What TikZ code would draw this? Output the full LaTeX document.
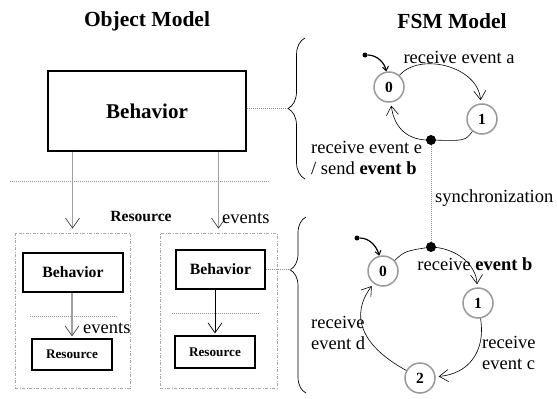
\documentclass[tikz,border=0pt]{standalone}
\usepackage{fontspec}
\setmainfont{Liberation Serif}
\usetikzlibrary{arrows.meta,decorations.pathreplacing,calc}

\begin{document}
\begin{tikzpicture}[x=1pt,y=-1pt,
  lab/.style={font=\fontsize{18.5}{21}\selectfont, inner sep=0pt},
  heading/.style={font=\bfseries\fontsize{21.5}{24}\selectfont, inner sep=0pt},
  box/.style={draw, line width=1.2pt, inner sep=0pt},
  group/.style={draw=gray!70, line width=0.7pt, inner sep=0pt,
    dash pattern=on 3pt off 1.5pt on 1pt off 1.5pt},
  sep/.style={draw=gray!90, line width=0.7pt, dash pattern=on 1pt off 1pt},
  flow/.style={draw=gray!75, line width=1.6pt,
    -{Straight Barb[length=10pt,width=14pt,line width=0.7pt,color=black!75]}},
  thinflow/.style={draw, line width=0.7pt,
    -{Straight Barb[length=10pt,width=14pt,line width=0.7pt]}},
  state/.style={circle, draw=gray!80, line width=1.5pt, minimum size=30pt,
    inner sep=0pt, font=\bfseries\fontsize{15.5}{15.5}\selectfont},
  trans/.style={draw, line width=0.6pt, shorten >=3pt,
    -{Straight Barb[length=9pt,width=12pt,line width=0.6pt]}},
  initial/.style={draw, line width=1.2pt,
    -{Straight Barb[length=4pt,width=6pt,line width=1pt]}},
  startdot/.style={circle, fill, inner sep=0pt, minimum size=5pt},
  syncdot/.style={circle, fill, inner sep=0pt, minimum size=10pt},
  bracket/.style={draw, line width=0.7pt, decorate},
]
\useasboundingbox (0,0) rectangle (557,399);

% ---------------- headings
\node[heading] (hobj) at (147,21) {Object Model};
\node[heading] (hfsm) at (452,21) {FSM Model};

% ---------------- object model
\node[box, minimum width=198pt, minimum height=80pt,
  font=\bfseries\fontsize{21}{24}\selectfont] (bb) at (147,111) {Behavior};

\coordinate (sepA1) at (10,181);
\coordinate (sepA2) at (270,181);
\draw[sep] (sepA1) -- (sepA2);

\node[group, minimum width=115pt, minimum height=155pt] (lg) at (72.5,310.5) {};
\node[group, minimum width=117pt, minimum height=155pt] (rg) at (218.5,310.5) {};

\draw[flow, shorten >=4pt] (bb.south -| lg.north) -- (lg.north);
\draw[flow, shorten >=4pt] (bb.south -| rg.north) -- (rg.north);

\node[font=\bfseries\fontsize{15.6}{18}\selectfont, inner sep=0pt] (res) at (141,216) {Resource};
\node[lab, anchor=west] (ev1) at (222,218) {events};

% left resource
\node[box, minimum width=100pt, minimum height=39pt,
  font=\bfseries\fontsize{15.7}{18}\selectfont] (lb) at (73,272.5) {Behavior};
\node[box, minimum width=80pt, minimum height=31pt,
  font=\bfseries\fontsize{13.2}{15}\selectfont] (lr) at (72,354.5) {Resource};
\coordinate (sepB1) at (30,316);
\coordinate (sepB2) at (117,316);
\draw[sep] (sepB1) -- (sepB2);
\draw[flow, shorten >=2pt] (lb.south -| lr.north) -- (lr.north);
\node[lab, anchor=west] (ev2) at (83,328) {events};

% right resource
\node[box, minimum width=89pt, minimum height=39pt,
  font=\bfseries\fontsize{15.7}{18}\selectfont] (rb) at (220.5,269.5) {Behavior};
\node[box, minimum width=80pt, minimum height=32pt,
  font=\bfseries\fontsize{13.2}{15}\selectfont] (rr) at (215,352) {Resource};
\coordinate (sepC1) at (172,313);
\coordinate (sepC2) at (260,313);
\draw[sep] (sepC1) -- (sepC2);
\draw[thinflow, shorten >=2pt] (rb.south -| rr.north) -- (rr.north);

% ---------------- braces linking the two models
\draw[bracket, decoration={brace, amplitude=17pt, aspect=0.5}] (305,179) -- (305,38);
\coordinate (ubtip) at (288,108.5);
\draw[sep] (bb.east |- ubtip) -- (ubtip);

\draw[bracket, decoration={brace, amplitude=16pt, aspect=0.7}] (306,393) -- (306,217);
\coordinate (lbtip) at (290,269.5);
\draw[sep] (rb.east) -- (lbtip);

% ---------------- upper state machine
\node[state] (u0) at (389,87) {0};
\node[state] (u1) at (482,119) {1};
\node[startdot] (ui) at (365,55) {};
\node[syncdot] (ud) at (431,140) {};

\draw[initial] (ui) .. controls (378,55) and (385,64) .. (u0);
\draw[trans] (u0) .. controls (420,52) and (478,66) .. (u1);
\draw[trans] (u1) .. controls (465,141) .. (ud.center)
  .. controls (408,141) and (394,128) .. (u0);

\node[lab] (la) at (459,57) {receive event a};
\node[lab, anchor=west, align=left] (le) at (311,157.5)
  {receive event e\\/ send \textbf{event b}};

% ---------------- synchronization
\node[syncdot] (ld) at (431,247) {};
\draw[sep] (ud) -- (ld);
\node[lab, anchor=west] (lsync) at (435,198) {synchronization};

% ---------------- lower state machine
\node[state] (l0) at (383,271) {0};
\node[state] (l1) at (478,303) {1};
\node[state] (l2) at (420,378) {2};
\node[startdot] (li) at (357,238) {};

\draw[initial] (li) .. controls (370,238) and (377,247) .. (l0);
\draw[trans] (l0) .. controls (405,251) .. (ld.center)
  .. controls (456,248) and (476,264) .. (l1);
\draw[trans] (l1) .. controls (486,352) and (468,374) .. (l2);
\draw[trans] (l2) .. controls (360,345) and (350,315) .. (l0);

\node[lab] (lb2) at (475,264) {receive \textbf{event b}};
\node[lab, anchor=west, align=left] (lc) at (482,352.5) {receive\\event c};
\node[lab, anchor=west, align=left] (ldd) at (311,332.5) {receive\\event d};
\end{tikzpicture}
\end{document}
